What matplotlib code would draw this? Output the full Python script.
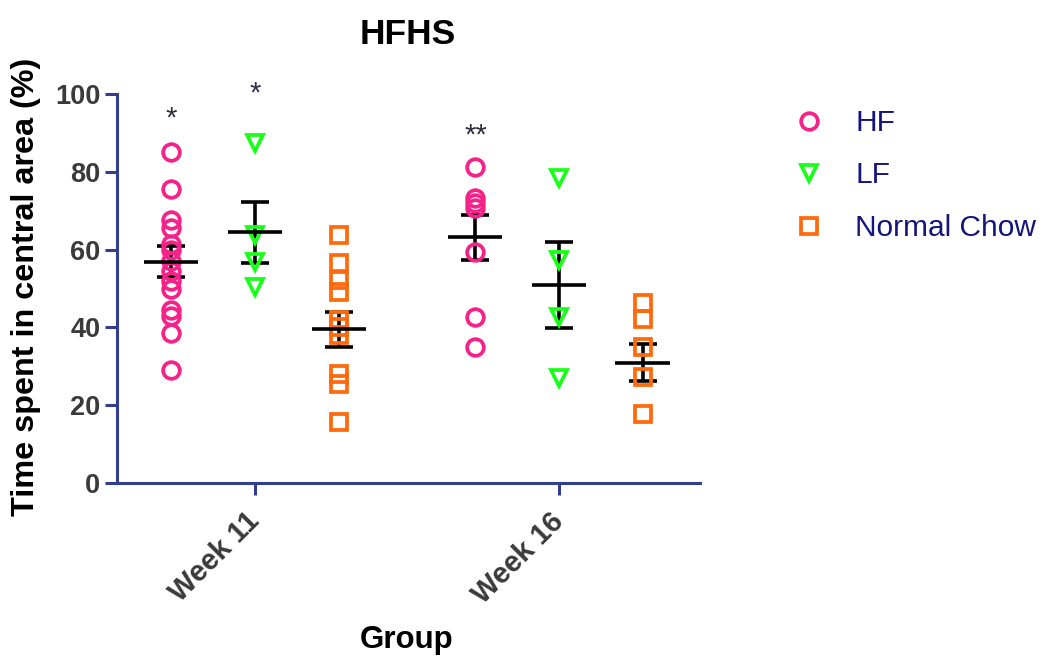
import matplotlib
matplotlib.use("Agg")
import matplotlib.pyplot as plt
from matplotlib.lines import Line2D

plt.rcParams["font.family"] = ["Liberation Sans", "DejaVu Sans"]

# values
weeks = ["Week 11", "Week 16"]
groups = ["HF", "LF", "Normal Chow"]

hf_wk11 = [85.0, 75.5, 67.5, 65.5, 61.5, 60.0, 57.0, 54.5, 52.0, 50.0, 44.5, 43.0, 38.5, 29.0]
lf_wk11 = [87.3, 63.8, 56.9, 50.5]
nc_wk11 = [63.8, 56.5, 52.2, 49.0, 42.0, 40.0, 38.0, 28.0, 25.5, 15.8]
hf_wk16 = [81.3, 73.3, 72.0, 70.7, 59.5, 42.8, 34.9]
lf_wk16 = [78.3, 57.3, 42.8, 26.9]
nc_wk16 = [46.2, 42.1, 35.0, 27.3, 17.7]

means_wk11 = [56.9, 64.4, 39.5]
sems_wk11 = [3.9, 7.9, 4.5]
means_wk16 = [63.2, 50.9, 30.9]
sems_wk16 = [5.8, 11.1, 4.8]

stars = ["*", "*", "", "**", "", ""]
star_heights = [91.6, 98.0, None, 87.2, None, None]

colors = ["#f5228a", "#1aff1a", "#ff6a0d"]
markers = ["o", "v", "s"]

points = [hf_wk11, lf_wk11, nc_wk11, hf_wk16, lf_wk16, nc_wk16]
means = means_wk11 + means_wk16
sems = sems_wk11 + sems_wk16

AXIS = "#343e8e"
TICKTXT = "#3a3a3a"
offsets = [-0.275, 0.0, 0.275]

fig = plt.figure(figsize=(10.48, 6.59), dpi=100)
ax = fig.add_axes([117 / 1048, 1 - 483 / 659, (700 - 117) / 1048, (483 - 94) / 659])

for w in range(len(weeks)):
    for g in range(len(groups)):
        i = w * 3 + g
        x = w + offsets[g]
        vals = points[i]
        ax.errorbar(x, means[i], yerr=sems[i], fmt="none", ecolor="black",
                    elinewidth=2.6, capsize=10, capthick=2.6, zorder=2)
        ax.plot([x] * len(vals), vals, linestyle="none", marker=markers[g],
                markersize=12, markerfacecolor="none", markeredgecolor=colors[g],
                markeredgewidth=2.7, zorder=3, clip_on=False)
        ax.hlines(means[i], x - 0.089, x + 0.089, color="black", linewidth=2.6, zorder=4)
        if stars[i]:
            ax.text(x, star_heights[i], stars[i], ha="center", va="baseline",
                    fontsize=21, color="#2d2d3d")

ax.set_xlim(-0.454, 1.464)
ax.set_ylim(0, 100)
ax.set_yticks([0, 20, 40, 60, 80, 100])
ax.set_xticks(range(len(weeks)))
ax.set_xticklabels(weeks, rotation=45, ha="right", va="center", rotation_mode="anchor")

for side in ["top", "right"]:
    ax.spines[side].set_visible(False)
for side in ["left", "bottom"]:
    ax.spines[side].set_color(AXIS)
    ax.spines[side].set_linewidth(2.2)
ax.tick_params(axis="both", direction="out", length=8.5, width=2.2, color=AXIS,
               labelsize=19.5, labelcolor=TICKTXT)
ax.tick_params(axis="x", pad=16, labelsize=21)
ax.tick_params(axis="y", pad=3.5)
for lab in ax.get_xticklabels() + ax.get_yticklabels():
    lab.set_fontweight("bold")

fig.text(408 / 1048, 1 - 34 / 659, "HFHS", ha="center", va="center",
         fontsize=25.5, fontweight="bold")
fig.text(26 / 1048, 1 - 287 / 659, "Time spent in central area (%)", rotation=90,
         ha="center", va="center", fontsize=23.3, fontweight="bold")
fig.text(407 / 1048, 1 - 640 / 659, "Group", ha="center", va="center",
         fontsize=22.5, fontweight="bold")

handles = [Line2D([], [], linestyle="none", marker=markers[g], markersize=12,
                  markerfacecolor="none", markeredgecolor=colors[g], markeredgewidth=2.7)
           for g in range(len(groups))]
leg = fig.legend(handles, groups, loc="upper left",
                 bbox_to_anchor=(794 / 1048, 1 - 109 / 659), frameon=False,
                 fontsize=21.5, handlelength=1.0, handletextpad=1.05,
                 labelspacing=0.82, borderpad=0, borderaxespad=0)
for t in leg.get_texts():
    t.set_color("#14147a")

fig.savefig("out.png", dpi=100)
